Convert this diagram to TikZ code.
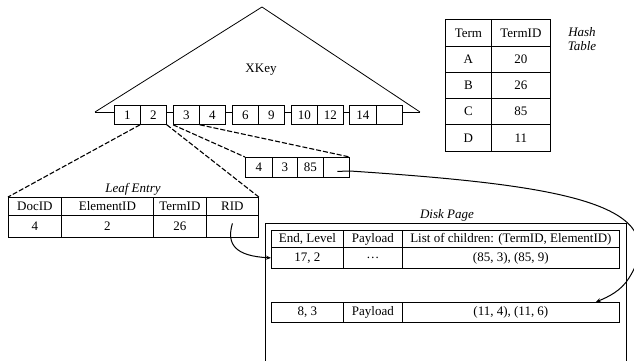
\documentclass[tikz,border=0pt]{standalone}
\usepackage{fontspec}
\setmainfont{Liberation Serif}
\usetikzlibrary{arrows.meta,calc}
\tikzset{
  cell/.style={draw, line width=0.8pt, inner sep=0pt, anchor=north west, fill=white, font=\fontsize{13}{15}\selectfont},
  lbl/.style={font=\fontsize{13}{14}\selectfont},
  ilbl/.style={font=\itshape\fontsize{13}{14}\selectfont, align=center},
  dashline/.style={line width=1.1pt, dash pattern=on 5pt off 2pt},
  plain/.style={line width=0.8pt},
  ptr/.style={line width=1pt, -{Stealth[length=5pt,width=4pt]}}
}
\newcommand\mycell[6]{\node[cell, minimum width={(#4)-(#2)}, minimum height={(#5)-(#3)}] (#1) at (#2,#3) {#6};}
\begin{document}
\begin{tikzpicture}[x=1pt,y=-1pt]
\useasboundingbox (0,0) rectangle (634,360);
% tree
\coordinate (apex) at (262,7);
\coordinate (tl) at (95,112);
\coordinate (tr) at (420,112);
\draw[plain] (tl) -- (apex) -- (tr);
\draw[plain] (tl) -- (tr);
\node[lbl] (xkey) at (261,70) {XKey};
\mycell{b1}{114}{105}{140}{124}{1}
\mycell{b2}{140}{105}{166}{124}{2}
\mycell{b3}{173}{105}{199}{124}{3}
\mycell{b4}{199}{105}{225}{124}{4}
\mycell{b6}{232}{105}{258}{124}{6}
\mycell{b9}{258}{105}{284}{124}{9}
\mycell{b10}{291}{105}{317}{124}{10}
\mycell{b12}{317}{105}{343}{124}{12}
\mycell{b14}{349}{105}{376}{124}{14}
\mycell{be}{376}{105}{402}{124}{}
% hash table
\mycell{h11}{445}{19}{491}{46}{Term}
\mycell{h12}{491}{19}{550}{46}{TermID}
\mycell{h21}{445}{46}{491}{72}{A}
\mycell{h22}{491}{46}{550}{72}{20}
\mycell{h31}{445}{72}{491}{98}{B}
\mycell{h32}{491}{72}{550}{98}{26}
\mycell{h41}{445}{98}{491}{124}{C}
\mycell{h42}{491}{98}{550}{124}{85}
\mycell{h51}{445}{124}{491}{151}{D}
\mycell{h52}{491}{124}{550}{151}{11}
\node[ilbl] (hlabel) at (582,39) {Hash\\Table};
% leaf entry
\node[ilbl] (leaflabel) at (133,189) {Leaf Entry};
\mycell{lh1}{8}{197}{61}{215}{DocID}
\mycell{lh2}{61}{197}{153}{215}{ElementID}
\mycell{lh3}{153}{197}{206}{215}{TermID}
\mycell{lh4}{206}{197}{258}{215}{RID}
\mycell{lv1}{8}{215}{61}{237}{4}
\mycell{lv2}{61}{215}{153}{237}{2}
\mycell{lv3}{153}{215}{206}{237}{26}
\mycell{lv4}{206}{215}{258}{237}{}
% small entry
\mycell{s1}{245}{157}{272}{177}{4}
\mycell{s2}{272}{157}{297}{177}{3}
\mycell{s3}{297}{157}{323}{177}{85}
\mycell{s4}{323}{157}{349}{177}{}
% dashed connectors
\draw[dashline] (b2.south west) -- (lh1.north west);
\draw[dashline] (b2.south east) -- (lh4.north east);
\draw[dashline] (b3.south west) -- (s1.north west);
\draw[dashline] (b3.south east) -- (s4.north east);
% disk page
\node[ilbl] (disklabel) at (447,215) {Disk Page};
\draw[line width=1pt] (265,362) -- (265,223) -- (626,223) -- (626,362);
\mycell{d11}{271}{230}{343}{247}{End, Level}
\mycell{d12}{343}{230}{402}{247}{Payload}
\mycell{d13}{402}{230}{619}{247}{List of children: (TermID, ElementID)}
\mycell{d21}{271}{247}{343}{268}{17, 2}
\mycell{d22}{343}{247}{402}{268}{…}
\mycell{d23}{402}{247}{619}{268}{(85, 3), (85, 9)}
\mycell{e1}{271}{302}{343}{322}{8, 3}
\mycell{e2}{343}{302}{402}{322}{Payload}
\mycell{e3}{402}{302}{619}{322}{(11, 4), (11, 6)}
% pointers
\coordinate (ridstart) at ($(lv4.center)+(0,-3)$);
\draw[ptr] (ridstart) .. controls (226,245) and (236,256) .. (d21.west);
\coordinate (s4start) at ($(s4.center)+(1,4)$);
\coordinate (e3target) at ($(e3.north east)+(-24,0)$);
\draw[ptr] (s4start) -- (350,171) .. controls (560,185) and (676,203) .. (629,278) .. controls (621,291) and (608,297) .. (e3target);
\end{tikzpicture}
\end{document}
